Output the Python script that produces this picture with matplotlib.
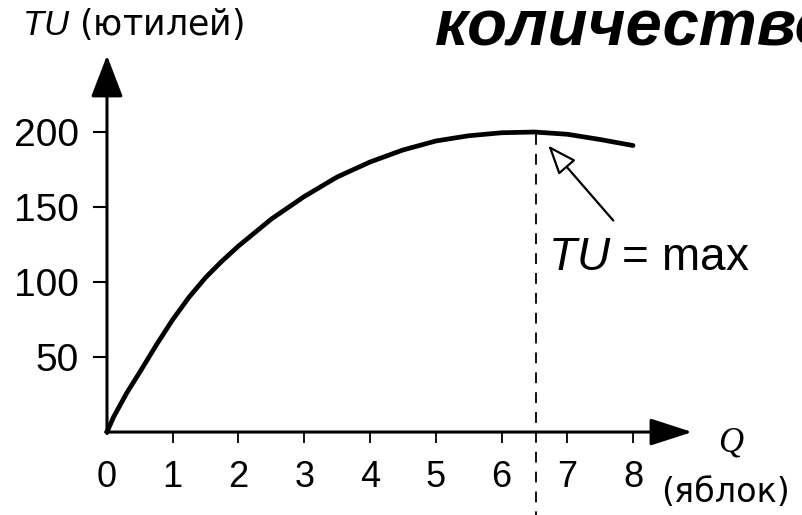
import matplotlib
matplotlib.use("Agg")
from matplotlib import pyplot as plt

plt.rcParams['font.family'] = ['Liberation Sans', 'DejaVu Sans']
plt.rcParams['mathtext.fontset'] = 'custom'
plt.rcParams['mathtext.it'] = 'Liberation Sans:italic'
plt.rcParams['mathtext.rm'] = 'Liberation Sans'

# total utility curve
q = [0, 0.1, 0.3, 0.5, 0.75, 1.0, 1.25, 1.5, 1.75, 2.0, 2.5, 3.0, 3.5,
     4.0, 4.5, 5.0, 5.5, 6.0, 6.5, 7.0, 7.5, 8.0]
tu = [0, 10, 26, 40, 58, 75, 90, 103, 114, 124, 142, 157, 170,
      180, 188, 194, 197.5, 199.5, 200, 198.5, 195, 191]

q_ticks = [0, 1, 2, 3, 4, 5, 6, 7, 8]
tu_ticks = [50, 100, 150, 200]
q_max = 6.53
tu_max = 199

fig = plt.figure(figsize=(8.02, 5.15), dpi=100)
ax = fig.add_axes([0, 0, 1, 1])
ax.set_xlim(-1.627, 10.57)
ax.set_ylim(-55.3, 288)

for s in ['top', 'right']:
    ax.spines[s].set_visible(False)
ax.spines['left'].set_position(('data', 0))
ax.spines['bottom'].set_position(('data', 0))
ax.spines['left'].set_visible(False)
ax.spines['bottom'].set_visible(False)

# axes with arrow heads
ax.annotate('', xy=(0, 251), xytext=(0, -1),
            arrowprops=dict(arrowstyle='-|>,head_length=1.3,head_width=0.5',
                            lw=2.2, color='black', shrinkA=0, shrinkB=0,
                            mutation_scale=20))
ax.annotate('', xy=(8.9, 0), xytext=(-0.02, 0),
            arrowprops=dict(arrowstyle='-|>,head_length=1.3,head_width=0.42',
                            lw=2.2, color='black', shrinkA=0, shrinkB=0,
                            mutation_scale=20))

ax.plot(q, tu, color='black', lw=3.4, solid_capstyle='round', solid_joinstyle='round')

# dashed line at the maximum
ax.plot([q_max, q_max], [tu_max, -56], color='black', lw=1.3,
        linestyle=(0, (6, 5)), clip_on=False)

ax.set_xticks(q_ticks)
ax.set_xticklabels([str(v) for v in q_ticks], fontsize=26)
ax.set_yticks(tu_ticks)
ax.set_yticklabels([str(v) for v in tu_ticks], fontsize=28)
ax.tick_params(axis='x', direction='out', length=8, width=1.3, pad=12)
ax.tick_params(axis='y', direction='out', length=10, width=1.5, pad=10.5)
ax.xaxis.get_major_ticks()[0].tick1line.set_visible(False)

# TU = max annotation
ax.annotate('', xy=(6.71, 191), xytext=(7.70, 141),
            arrowprops=dict(arrowstyle='-|>,head_length=0.9,head_width=0.35',
                            lw=1.6, fc='white', ec='black', shrinkA=0, shrinkB=0,
                            mutation_scale=20))
ax.text(6.71, 108, r'$TU$ = max', fontsize=33, va='baseline', ha='left')

ax.text(-1.29, 264.7, r'$TU$ (ютилей)', fontsize=25, va='baseline', ha='left',
        family=['DejaVu Sans'])
ax.text(9.48, -13.3, 'Q', fontsize=25, va='baseline', ha='center',
        family='Liberation Serif', style='italic')
ax.text(9.40, -46.7, '(яблок)', fontsize=24, va='baseline', ha='center',
        family=['DejaVu Sans'])

# title runs off the right edge, as in the source picture
ax.text(4.99, 258, 'количество', fontsize=47, fontweight='bold', style='italic',
        va='baseline', ha='left')

fig.savefig('out.png', dpi=100)
